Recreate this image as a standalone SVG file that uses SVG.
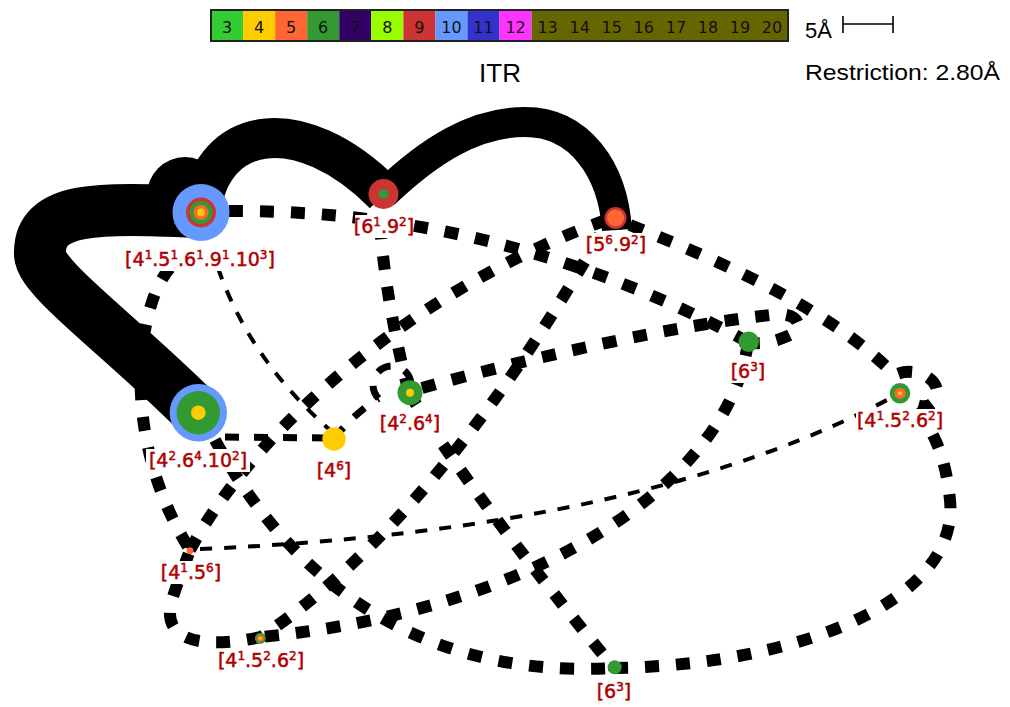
<svg xmlns="http://www.w3.org/2000/svg" width="1010" height="707" viewBox="0 0 1010 707">
<style>
.rb{fill:none;stroke:#000;stroke-linecap:butt;stroke-linejoin:round}
.t{fill:none;stroke:#000;stroke-width:12;stroke-dasharray:14 17}
.m{fill:none;stroke:#000;stroke-width:7;stroke-dasharray:14 15}
.n{fill:none;stroke:#000;stroke-width:4;stroke-dasharray:12 12}
.bg{fill:#fff}
.lb{font-family:"DejaVu Sans",sans-serif;font-size:19px;fill:#B00000;stroke:#B00000;stroke-width:0.5;text-anchor:middle}
.s{font-size:12px;baseline-shift:7px}
.lg{font-family:"DejaVu Sans",sans-serif;font-size:16px;fill:#111;text-anchor:middle}
.hd{font-family:"Liberation Sans",Arial,sans-serif;fill:#000}
</style>
<rect width="1010" height="707" fill="#fff"/>
<g id="legend">
<rect x="211" y="10" width="32.06" height="31" fill="#33CC33"/>
<rect x="243.06" y="10" width="32.06" height="31" fill="#FFCC00"/>
<rect x="275.12" y="10" width="32.06" height="31" fill="#FF6633"/>
<rect x="307.18" y="10" width="32.06" height="31" fill="#339933"/>
<rect x="339.24" y="10" width="32.06" height="31" fill="#330066"/>
<rect x="371.3" y="10" width="32.06" height="31" fill="#99FF00"/>
<rect x="403.36" y="10" width="32.06" height="31" fill="#CC3333"/>
<rect x="435.42" y="10" width="32.06" height="31" fill="#6699FF"/>
<rect x="467.48" y="10" width="32.06" height="31" fill="#3333CC"/>
<rect x="499.54" y="10" width="32.06" height="31" fill="#FF33FF"/>
<rect x="531.6" y="10" width="256.4" height="31" fill="#666600"/>
<rect x="211" y="10" width="577" height="31" fill="none" stroke="#222" stroke-width="2"/>
<text class="lg" x="227" y="33">3</text>
<text class="lg" x="259.1" y="33">4</text>
<text class="lg" x="291.2" y="33">5</text>
<text class="lg" x="323.2" y="33">6</text>
<text class="lg" x="355.3" y="33">7</text>
<text class="lg" x="387.3" y="33">8</text>
<text class="lg" x="419.4" y="33">9</text>
<text class="lg" x="451.5" y="33">10</text>
<text class="lg" x="483.5" y="33">11</text>
<text class="lg" x="515.6" y="33">12</text>
<text class="lg" x="547.6" y="33">13</text>
<text class="lg" x="579.7" y="33">14</text>
<text class="lg" x="611.8" y="33">15</text>
<text class="lg" x="643.8" y="33">16</text>
<text class="lg" x="675.9" y="33">17</text>
<text class="lg" x="707.9" y="33">18</text>
<text class="lg" x="740" y="33">19</text>
<text class="lg" x="772" y="33">20</text>
<text class="hd" x="805" y="38" font-size="22">5Å</text>
<path d="M843 24H893M843 16V33M893 16V33" stroke="#000" stroke-width="1.6" fill="none"/>
<text class="hd" x="500" y="82" font-size="26" text-anchor="middle">ITR</text>
<text class="hd" x="805" y="80" font-size="22" textLength="195" lengthAdjust="spacingAndGlyphs">Restriction: 2.80Å</text>
</g>
<g id="connectors">
<circle cx="185" cy="195" r="38" fill="#000"/>
<path class="rb" stroke-width="52" d="M201 212 C100 208 38 205 40 255 C42 280 120 335 198 413"/>
<path class="rb" stroke-width="40" d="M201 210 C212 125 300 110 384 194"/>
<path class="rb" stroke-width="30" d="M384 194 C430 150 475 122 525 122 C580 122 613 170 617 230"/>
<path class="t" d="M229 211 C380 210 560 240 748 342"/>
<path class="t" d="M170 268 C140 300 115 430 190 550"/>
<path class="t" d="M190 550 C260 420 430 280 615 217"/>
<path class="t" d="M380 225 C385 290 398 350 409 393"/>
<path class="t" d="M409 393 C470 490 550 590 614 668"/>
<path class="t" d="M215 440 C280 560 400 680 614 668"/>
<path class="t" d="M614 668 C800 665 960 600 950 500 C945 450 930 420 900 393"/>
<path class="t" d="M748 342 C730 480 540 610 261 637"/>
<path class="t" d="M600 235 C540 340 420 530 261 637"/>
<path class="t" d="M261 637 C200 650 160 640 172 600 C178 580 185 565 190 550"/>
<path class="t" d="M630 225 C730 265 830 310 895 375 C915 365 945 380 935 400 C928 412 910 405 900 393"/>
<path class="t" d="M422 388 C540 355 680 325 770 315 C800 310 805 330 790 335 C775 342 760 345 748 342"/>
<path class="m" d="M225 437 L334 438"/>
<path class="m" d="M334 438 C348 422 362 408 378.6 398.4"/>
<path class="m" stroke-width="4.5" stroke-dasharray="11 8" d="M378.6 398.4 A19 19 0 1 1 409.9 391.5"/>
<path class="n" d="M218 268 Q250 360 330 430"/>
<path class="n" stroke-dasharray="15 17" d="M200 549 Q650 530 900 393"/>
</g>
<g id="nA">
<circle cx="201" cy="212.5" r="28.5" fill="#6699FF"/>
<circle cx="201" cy="212.5" r="15" fill="#CC3333"/>
<circle cx="201" cy="212.5" r="11.5" fill="#339933"/>
<circle cx="201" cy="212.5" r="7.5" fill="#FF6633"/>
<circle cx="201" cy="212.5" r="4" fill="#FFCC00"/>
<rect class="bg" x="123" y="248" width="154" height="23"/>
<text class="lb" x="200" y="266">[4<tspan class="s">1</tspan>.5<tspan class="s">1</tspan>.6<tspan class="s">1</tspan>.9<tspan class="s">1</tspan>.10<tspan class="s">3</tspan>]</text>
</g>
<g id="nB">
<circle cx="383.5" cy="194" r="15" fill="#CC3333"/>
<circle cx="383.5" cy="194" r="5" fill="#339933"/>
<rect class="bg" x="355" y="215" width="58" height="23"/>
<text class="lb" x="384" y="233">[6<tspan class="s">1</tspan>.9<tspan class="s">2</tspan>]</text>
</g>
<g id="nC">
<circle cx="615.5" cy="218" r="11" fill="#CC3333"/>
<circle cx="615.5" cy="218" r="8.5" fill="#FF6633"/>
<rect class="bg" x="586" y="233" width="60" height="23"/>
<text class="lb" x="616" y="251">[5<tspan class="s">6</tspan>.9<tspan class="s">2</tspan>]</text>
</g>
<g id="nD">
<circle cx="198.3" cy="412.7" r="28.7" fill="#6699FF"/>
<circle cx="198.3" cy="412.7" r="21.7" fill="#339933"/>
<circle cx="198.3" cy="412.7" r="7.3" fill="#FFCC00"/>
<rect class="bg" x="146" y="449" width="104" height="23"/>
<text class="lb" x="198" y="467">[4<tspan class="s">2</tspan>.6<tspan class="s">4</tspan>.10<tspan class="s">2</tspan>]</text>
</g>
<g id="nE">
<circle cx="334" cy="439" r="11.7" fill="#FFCC00"/>
<rect class="bg" x="316" y="459" width="36" height="23"/>
<text class="lb" x="334" y="477">[4<tspan class="s">6</tspan>]</text>
</g>
<g id="nF">
<circle cx="410" cy="392.7" r="12.5" fill="#339933"/>
<circle cx="410" cy="392.7" r="4" fill="#FFCC00"/>
<rect class="bg" x="379" y="412" width="62" height="23"/>
<text class="lb" x="410" y="430">[4<tspan class="s">2</tspan>.6<tspan class="s">4</tspan>]</text>
</g>
<g id="nG">
<circle cx="748.7" cy="341.7" r="10.3" fill="#339933"/>
<rect class="bg" x="730" y="360" width="36" height="23"/>
<text class="lb" x="748" y="378">[6<tspan class="s">3</tspan>]</text>
</g>
<g id="nH">
<circle cx="900" cy="393.3" r="10.3" fill="#339933"/>
<circle cx="900" cy="393.3" r="5.5" fill="#FF6633"/>
<circle cx="900" cy="393.3" r="2" fill="#FFCC00"/>
<rect class="bg" x="856" y="409" width="88" height="23"/>
<text class="lb" x="900" y="427">[4<tspan class="s">1</tspan>.5<tspan class="s">2</tspan>.6<tspan class="s">2</tspan>]</text>
</g>
<g id="nI">
<circle cx="190" cy="550.7" r="3.4" fill="#FF6633"/>
<rect class="bg" x="160" y="561" width="62" height="23"/>
<text class="lb" x="191" y="579">[4<tspan class="s">1</tspan>.5<tspan class="s">6</tspan>]</text>
</g>
<g id="nJ">
<circle cx="260.3" cy="638.3" r="5.5" fill="#339933"/>
<circle cx="260.3" cy="638.3" r="3.4" fill="#FF6633"/>
<circle cx="260.3" cy="638.3" r="1.5" fill="#FFCC00"/>
<rect class="bg" x="217" y="649" width="88" height="23"/>
<text class="lb" x="261" y="667">[4<tspan class="s">1</tspan>.5<tspan class="s">2</tspan>.6<tspan class="s">2</tspan>]</text>
</g>
<g id="nK">
<circle cx="614.7" cy="667.3" r="7" fill="#339933"/>
<rect class="bg" x="596" y="680" width="36" height="23"/>
<text class="lb" x="614" y="698">[6<tspan class="s">3</tspan>]</text>
</g>
</svg>
